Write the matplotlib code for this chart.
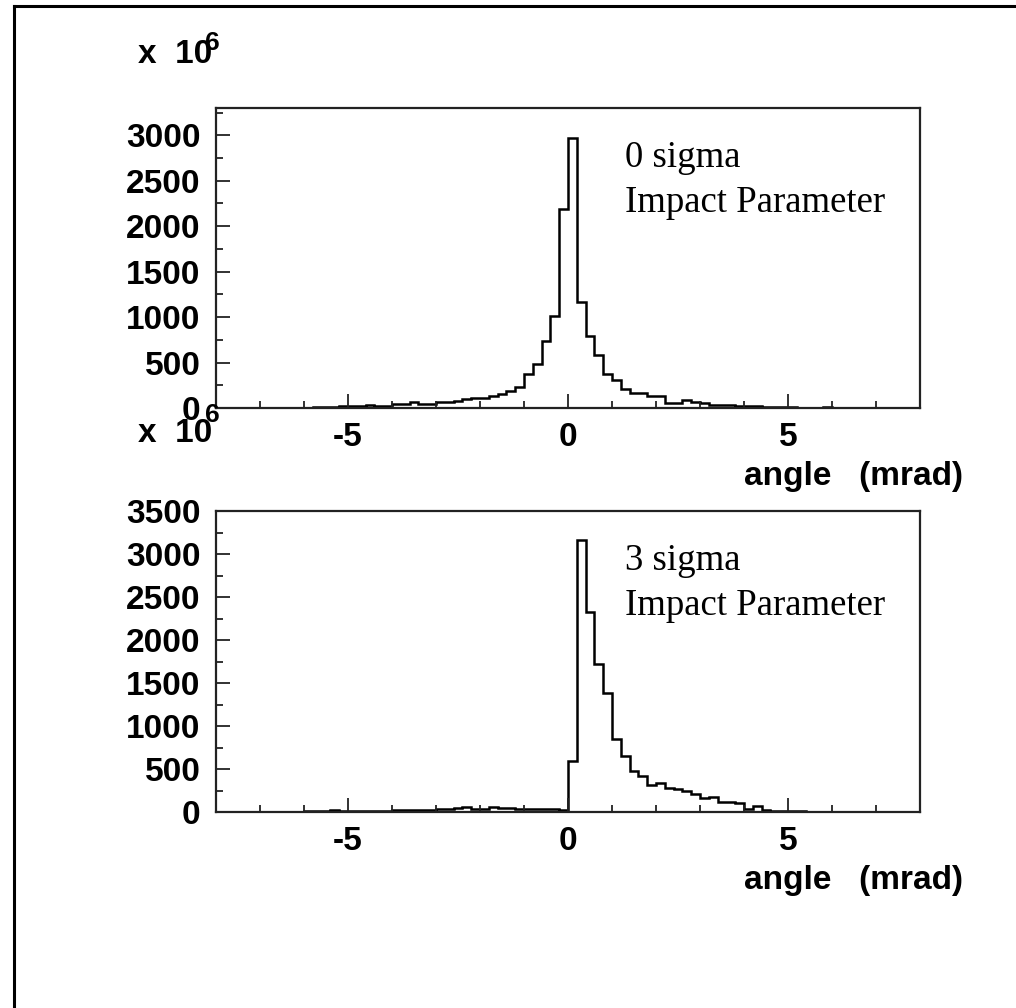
import numpy as np
import matplotlib
matplotlib.use("Agg")
import matplotlib.pyplot as plt
from matplotlib.lines import Line2D
from matplotlib.ticker import MultipleLocator

# angle histograms, 80 bins of 0.2 mrad from -8 to 8, counts in units of 10^6
bin_lo, bin_hi, n_bins = -8.0, 8.0, 80

counts_0sigma = [
    0, 0, 0, 1, 1, 2, 2, 3, 3, 4,
    5, 6, 8, 12, 20, 26, 24, 33, 26, 26,
    40, 40, 62, 44, 44, 62, 62, 80, 95, 110,
    110, 130, 150, 185, 234, 374, 480, 740, 1010, 2185,
    2975, 1170, 790, 580, 370, 310, 205, 165, 165, 132,
    132, 51, 60, 88, 70, 51, 33, 30, 28, 25,
    22, 20, 15, 10, 8, 6, 5, 4, 3, 10,
    3, 2, 2, 1, 1, 1, 0, 0, 0, 0,
]

counts_3sigma = [
    0, 0, 0, 0, 0, 2, 3, 3, 5, 5,
    8, 10, 12, 18, 15, 12, 10, 12, 15, 12,
    20, 22, 18, 20, 25, 30, 35, 45, 55, 40,
    30, 62, 45, 48, 40, 38, 36, 38, 32, 25,
    590, 3168, 2328, 1723, 1383, 844, 648, 473, 422, 309,
    336, 277, 266, 246, 211, 160, 172, 121, 113, 100,
    30, 70, 25, 15, 10, 8, 6, 5, 4, 3,
    2, 2, 1, 1, 1, 0, 0, 0, 0, 0,
]

labels = ["0 sigma", "3 sigma"]
y_tops = [3300, 3500]
x_title = "angle   (mrad)"

plt.rcParams["font.family"] = "Liberation Sans"
plt.rcParams["font.weight"] = "bold"
plt.rcParams["axes.unicode_minus"] = False

W, H = 1016, 1008
fig = plt.figure(figsize=(W / 100, H / 100), dpi=100)

edges = np.linspace(bin_lo, bin_hi, n_bins + 1)
boxes = [(108, 408), (511, 812)]  # pixel top/bottom of each pad

for k, (counts, top, label, (py0, py1)) in enumerate(
        zip([counts_0sigma, counts_3sigma], y_tops, labels, boxes)):
    ax = fig.add_axes([216 / W, 1 - py1 / H, 704 / W, (py1 - py0) / H])
    ax.stairs(counts, edges, color="black", lw=1.8)
    ax.set_xlim(bin_lo, bin_hi)
    ax.set_ylim(0, top)
    ax.xaxis.set_major_locator(MultipleLocator(5))
    ax.xaxis.set_minor_locator(MultipleLocator(1))
    ax.yaxis.set_major_locator(MultipleLocator(500))
    ax.yaxis.set_minor_locator(MultipleLocator(250))
    ax.tick_params(which="both", direction="in", top=False, right=False,
                   width=1.3, color="#222222", labelsize=24)
    ax.tick_params(which="major", length=10)
    ax.tick_params(which="minor", length=5)
    ax.tick_params(axis="y", pad=11)
    ax.tick_params(axis="x", pad=10)
    for s in ax.spines.values():
        s.set_linewidth(1.6)
        s.set_color("#222222")

    # exponent marker above the y axis
    base_x10 = py0 - 45 if k == 0 else py0 - 69
    base_6 = py0 - 58 if k == 0 else py0 - 89
    fig.text(212 / W, 1 - base_x10 / H, "x  10",
             ha="right", va="baseline", fontsize=24, fontweight="bold")
    fig.text(205 / W, 1 - base_6 / H, "6",
             ha="left", va="baseline", fontsize=19, fontweight="bold")

    # axis title, right aligned under the pad
    fig.text(963 / W, 1 - (py1 + 77) / H, x_title,
             ha="right", va="baseline", fontsize=24, fontweight="bold")

    # pad annotation
    fig.text(625 / W, 1 - (py0 + 59) / H, label, family="Liberation Serif",
             fontweight="normal", fontsize=26.5, va="baseline")
    fig.text(625 / W, 1 - (py0 + 104) / H, "Impact Parameter", family="Liberation Serif",
             fontweight="normal", fontsize=26.5, va="baseline")

# canvas frame
fig.add_artist(Line2D([14 / W, 14 / W], [0, 1 - 6 / H], color="black", lw=2.2))
fig.add_artist(Line2D([14 / W, 1], [1 - 6 / H, 1 - 6 / H], color="black", lw=2.2))

fig.savefig("out.png", dpi=100)
